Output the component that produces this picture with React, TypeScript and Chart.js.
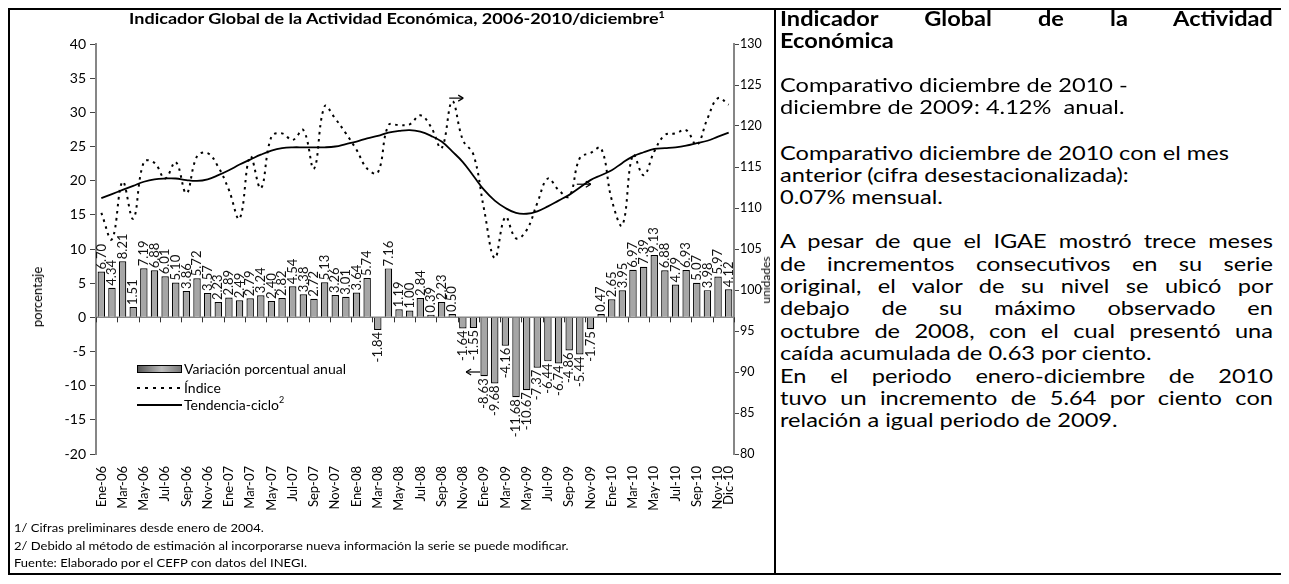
import React, { useEffect, useRef } from "react";
import { Chart, registerables } from "chart.js";
Chart.register(...registerables);

const categories = [
  "Ene-06","Feb-06","Mar-06","Abr-06","May-06","Jun-06","Jul-06","Ago-06","Sep-06","Oct-06","Nov-06","Dic-06",
  "Ene-07","Feb-07","Mar-07","Abr-07","May-07","Jun-07","Jul-07","Ago-07","Sep-07","Oct-07","Nov-07","Dic-07",
  "Ene-08","Feb-08","Mar-08","Abr-08","May-08","Jun-08","Jul-08","Ago-08","Sep-08","Oct-08","Nov-08","Dic-08",
  "Ene-09","Feb-09","Mar-09","Abr-09","May-09","Jun-09","Jul-09","Ago-09","Sep-09","Oct-09","Nov-09","Dic-09",
  "Ene-10","Feb-10","Mar-10","Abr-10","May-10","Jun-10","Jul-10","Ago-10","Sep-10","Oct-10","Nov-10","Dic-10",
];

const shownLabels = [
  "Ene-06","Mar-06","May-06","Jul-06","Sep-06","Nov-06",
  "Ene-07","Mar-07","May-07","Jul-07","Sep-07","Nov-07",
  "Ene-08","Mar-08","May-08","Jul-08","Sep-08","Nov-08",
  "Ene-09","Mar-09","May-09","Jul-09","Sep-09","Nov-09",
  "Ene-10","Mar-10","May-10","Jul-10","Sep-10","Nov-10","Dic-10",
];

const variacion = [
  6.70, 4.34, 8.21, 1.51, 7.19, 6.88, 6.01, 5.10, 3.86, 5.72, 3.57, 2.23,
  2.89, 2.49, 2.79, 3.24, 2.40, 2.82, 4.54, 3.38, 2.72, 5.13, 3.26, 3.01,
  3.64, 5.74, -1.84, 7.16, 1.19, 1.00, 2.84, 0.39, 2.23, 0.50, -1.64, -1.55,
  -8.63, -9.68, -4.16, -11.68, -10.67, -7.37, -6.44, -6.74, -4.86, -5.44, -1.75, 0.47,
  2.65, 3.95, 6.97, 7.39, 9.13, 6.88, 4.79, 6.93, 5.07, 3.98, 5.97, 4.12,
];

const indice = [
  109.4, 106.2, 113.2, 108.7, 115.6, 115.5, 113.6, 115.6, 111.8, 116.3, 116.7, 115.0,
  112.2, 108.7, 116.3, 112.4, 118.7, 119.1, 118.3, 119.5, 114.8, 122.4, 120.9, 119.1,
  117.1, 114.8, 114.3, 120.1, 120.1, 120.2, 121.3, 119.9, 117.3, 123.0, 118.3, 116.5,
  109.8, 103.9, 108.9, 106.3, 107.3, 110.6, 113.6, 112.2, 111.4, 116.1, 116.7, 117.3,
  111.0, 107.9, 116.5, 114.0, 116.9, 118.9, 119.1, 119.5, 117.7, 120.9, 123.4, 122.6,
];

const tendencia = [
  111.2, 111.7, 112.2, 112.7, 113.2, 113.5, 113.6, 113.6, 113.4, 113.3, 113.5, 114.0,
  114.6, 115.3, 115.9, 116.5, 117.0, 117.3, 117.4, 117.4, 117.4, 117.4, 117.5, 117.8,
  118.1, 118.5, 118.8, 119.2, 119.4, 119.5, 119.3, 118.8, 118.1, 116.9, 115.6, 113.9,
  112.2, 110.9, 110.0, 109.4, 109.3, 109.6, 110.2, 110.9, 111.6, 112.5, 113.4, 114.0,
  114.6, 115.5, 116.3, 116.8, 117.2, 117.3, 117.4, 117.6, 117.9, 118.2, 118.7, 119.2,
];

// arrows: category index, value, axis, direction
const arrowMarks = [
  { at: 33, value: 123.4, axis: "y1", dir: 1 },
  { at: 45, value: 112.9, axis: "y1", dir: 1 },
  { at: 36, value: -8.0, axis: "y", dir: -1 },
];

const panelLines = [
  { t: "Indicador Global de la Actividad", b: true, j: true, y: 18 },
  { t: "Económica", b: true, j: false, y: 40 },
  { t: "Comparativo diciembre de 2010 -", b: false, j: false, y: 84 },
  { t: "diciembre de 2009: 4.12%\u00a0 anual.", b: false, j: false, y: 106 },
  { t: "Comparativo diciembre de 2010 con el mes", b: false, j: false, y: 152 },
  { t: "anterior (cifra desestacionalizada):", b: false, j: false, y: 174 },
  { t: "0.07% mensual.", b: false, j: false, y: 196 },
  { t: "A pesar de que el IGAE mostró trece meses", b: false, j: true, y: 240 },
  { t: "de incrementos consecutivos en su serie", b: false, j: true, y: 263 },
  { t: "original, el valor de su nivel se ubicó por", b: false, j: true, y: 285 },
  { t: "debajo de su máximo observado en", b: false, j: true, y: 307 },
  { t: "octubre de 2008, con el cual presentó una", b: false, j: true, y: 330 },
  { t: "caída acumulada de 0.63 por ciento.", b: false, j: false, y: 352 },
  { t: "En el periodo enero-diciembre de 2010", b: false, j: true, y: 375 },
  { t: "tuvo un incremento de 5.64 por ciento con", b: false, j: true, y: 397 },
  { t: "relación a igual periodo de 2009.", b: false, j: false, y: 419 },
];

const footnotes = [
  "1/ Cifras preliminares desde enero de 2004.",
  "2/ Debido al método de estimación al incorporarse nueva información la serie se puede modificar.",
  "Fuente: Elaborado por el CEFP con datos del INEGI.",
];

const FONT = "Lato, 'Open Sans', sans-serif";
const LEFT_W = 764; // inner width of chart cell
const PANEL_GAP = 4;
const PANEL_W = 1271 - (LEFT_W + 2) - PANEL_GAP - 8;
const PANEL_SX = 1.18;

const zeroAxisPlugin = {
  id: "zeroAxis",
  beforeDatasetsDraw(chart: any) {
    const { ctx, chartArea, scales } = chart;
    const y0 = scales.y.getPixelForValue(0);
    const step = (chartArea.right - chartArea.left) / categories.length;
    ctx.save();
    ctx.strokeStyle = "#868686";
    ctx.lineWidth = 1.5;
    ctx.beginPath();
    ctx.moveTo(chartArea.left, y0);
    ctx.lineTo(chartArea.right, y0);
    ctx.stroke();
    ctx.strokeStyle = "#333";
    ctx.lineWidth = 1;
    for (let i = 0; i <= categories.length; i += 2) {
      const px = Math.round(scales.x.getPixelForValue(i) - step / 2) + 0.5;
      ctx.beginPath();
      ctx.moveTo(px, y0);
      ctx.lineTo(px, y0 + 5);
      ctx.stroke();
    }
    ctx.restore();
  },
};

const barLabelPlugin = {
  id: "barLabels",
  afterDatasetsDraw(chart: any) {
    const { ctx } = chart;
    const idx = chart.data.datasets.findIndex((d: any) => d.type === "bar");
    const meta = chart.getDatasetMeta(idx);
    ctx.save();
    ctx.font = `13px ${FONT}`;
    ctx.fillStyle = "#111";
    ctx.textBaseline = "middle";
    meta.data.forEach((el: any, i: number) => {
      const v = variacion[i];
      ctx.save();
      if (v >= 0) {
        ctx.translate(el.x, el.y - 2);
        ctx.rotate(-Math.PI / 2);
        ctx.textAlign = "left";
      } else {
        ctx.translate(el.x, el.y + 2);
        ctx.rotate(-Math.PI / 2);
        ctx.textAlign = "right";
      }
      ctx.fillText(v.toFixed(2), 0, 0);
      ctx.restore();
    });
    ctx.restore();
  },
};

const arrowPlugin = {
  id: "arrows",
  afterDatasetsDraw(chart: any) {
    const { ctx, scales } = chart;
    ctx.save();
    ctx.strokeStyle = "#000";
    ctx.lineWidth = 1.2;
    arrowMarks.forEach((a) => {
      const cx = scales.x.getPixelForValue(a.at);
      const y = scales[a.axis].getPixelForValue(a.value);
      const x0 = a.dir > 0 ? cx - 3 : cx - 4;
      const x1 = a.dir > 0 ? cx + 11 : cx - 18;
      ctx.beginPath();
      ctx.moveTo(x0, y);
      ctx.lineTo(x1, y);
      ctx.stroke();
      ctx.beginPath();
      ctx.moveTo(x1, y);
      ctx.lineTo(x1 - a.dir * 5, y - 3);
      ctx.moveTo(x1, y);
      ctx.lineTo(x1 - a.dir * 5, y + 3);
      ctx.stroke();
    });
    ctx.restore();
  },
};

export default function App() {
  const ref = useRef<HTMLCanvasElement>(null);
  useEffect(() => {
    const chart = new Chart(ref.current as HTMLCanvasElement, {
      type: "bar",
      data: {
        labels: categories,
        datasets: [
          {
            type: "line",
            label: "Índice",
            data: indice,
            yAxisID: "y1",
            borderColor: "#000",
            borderWidth: 2,
            borderDash: [2.5, 4.5],
            pointRadius: 0,
            tension: 0.4,
            fill: false,
            order: 1,
          } as any,
          {
            type: "line",
            label: "Tendencia-ciclo",
            data: tendencia,
            yAxisID: "y1",
            borderColor: "#000",
            borderWidth: 1.8,
            pointRadius: 0,
            tension: 0.4,
            fill: false,
            order: 2,
          } as any,
          {
            type: "bar",
            label: "Variación porcentual anual",
            data: variacion,
            yAxisID: "y",
            backgroundColor: "#a6a6a6",
            borderColor: "#000",
            borderWidth: 1.2,
            barPercentage: 0.7,
            categoryPercentage: 1,
            order: 3,
          } as any,
        ],
      },
      options: {
        animation: false,
        responsive: false,
        layout: { padding: { top: 34, left: 0, right: 0, bottom: 0 } },
        plugins: {
          legend: { display: false },
          title: { display: false },
          tooltip: { enabled: false },
        },
        scales: {
          x: {
            grid: { display: false },
            border: { display: false },
            ticks: {
              autoSkip: false,
              maxRotation: 90,
              minRotation: 90,
              padding: 4,
              color: "#000",
              font: { family: FONT, size: 13 },
              callback: (_v: any, i: number) =>
                shownLabels.includes(categories[i]) ? categories[i] : "",
            },
            afterFit: (s: any) => {
              s.height = 71;
            },
          },
          y: {
            position: "left",
            min: -20,
            max: 40,
            ticks: {
              stepSize: 5,
              color: "#000",
              padding: 4,
              font: { family: FONT, size: 14 },
            },
            grid: {
              drawOnChartArea: false,
              drawTicks: true,
              tickLength: 6,
              color: "#444",
            },
            border: { display: true, color: "#868686", width: 2 },
            afterFit: (s: any) => {
              s.width = 86;
            },
          },
          y1: {
            position: "right",
            min: 80,
            max: 130,
            ticks: {
              stepSize: 5,
              color: "#000",
              padding: 1,
              font: { family: FONT, size: 12.5 },
            },
            grid: {
              drawOnChartArea: false,
              drawTicks: true,
              tickLength: 5,
              color: "#444",
            },
            border: { display: true, color: "#868686", width: 2 },
            afterFit: (s: any) => {
              s.width = LEFT_W - 724;
            },
          },
        },
      } as any,
      plugins: [zeroAxisPlugin, barLabelPlugin, arrowPlugin],
    });
    return () => chart.destroy();
  }, []);

  const legendText: React.CSSProperties = {
    position: "absolute",
    left: 174,
    fontSize: 14,
    lineHeight: "16px",
    whiteSpace: "nowrap",
    color: "#000",
  };

  return (
    <div
      style={{
        position: "relative",
        width: 1275,
        height: 567,
        border: "2px solid #000",
        boxSizing: "border-box",
        fontFamily: FONT,
        color: "#000",
      }}
    >
      <div
        style={{
          position: "absolute",
          left: 0,
          top: 0,
          width: LEFT_W + 2,
          height: 563,
          borderRight: "2px solid #000",
          boxSizing: "border-box",
          overflow: "hidden",
        }}
      >
        <canvas
          ref={ref}
          width={LEFT_W}
          height={515}
          style={{ position: "absolute", left: 0, top: 0, width: LEFT_W, height: 515 }}
        />
        <div
          style={{
            position: "absolute",
            left: 387,
            top: 0,
            transform: "translateX(-50%) scaleX(1.2)",
            fontWeight: 700,
            fontSize: 15,
            lineHeight: "16px",
            whiteSpace: "nowrap",
          }}
        >
          Indicador Global de la Actividad Económica, 2006-2010/diciembre
          <sup style={{ fontSize: 9, verticalAlign: "6px", lineHeight: 0 }}>1</sup>
        </div>
        <div
          style={{
            position: "absolute",
            left: 27,
            top: 287,
            transform: "translate(-50%, -50%) rotate(-90deg)",
            fontSize: 13,
            whiteSpace: "nowrap",
          }}
        >
          porcentaje
        </div>
        <div
          style={{
            position: "absolute",
            left: 756,
            top: 270,
            transform: "translate(-50%, -50%) rotate(-90deg)",
            fontSize: 12,
            lineHeight: "12px",
            whiteSpace: "nowrap",
          }}
        >
          unidades
        </div>
        {/* legend */}
        <div
          style={{
            position: "absolute",
            left: 127,
            top: 355,
            width: 45,
            height: 8,
            border: "1px solid #000",
            boxSizing: "border-box",
            background: "linear-gradient(to right, #555 0%, #bdbdbd 55%, #777 100%)",
          }}
        />
        <div style={{ ...legendText, top: 351 }}>Variación porcentual anual</div>
        <div
          style={{
            position: "absolute",
            left: 127,
            top: 377,
            width: 45,
            height: 2,
            background:
              "repeating-linear-gradient(to right, #000 0px, #000 3px, transparent 3px, transparent 8px)",
          }}
        />
        <div style={{ ...legendText, top: 370 }}>Índice</div>
        <div
          style={{
            position: "absolute",
            left: 127,
            top: 394,
            width: 45,
            height: 1.5,
            background: "#000",
          }}
        />
        <div style={{ ...legendText, top: 387 }}>
          Tendencia-ciclo
          <sup style={{ fontSize: 9, verticalAlign: "7px", lineHeight: 0 }}>2</sup>
        </div>
        {/* footnotes */}
        {footnotes.map((f, i) => (
          <div
            key={i}
            style={{
              position: "absolute",
              left: 4,
              top: 511 + i * 17.5,
              fontSize: 11.5,
              lineHeight: "14px",
              whiteSpace: "nowrap",
              transform: "scaleX(1.13)",
              transformOrigin: "left top",
            }}
          >
            {f}
          </div>
        ))}
      </div>
      <div
        style={{
          position: "absolute",
          left: LEFT_W + 2 + PANEL_GAP,
          top: 0,
          width: PANEL_W,
        }}
      >
        {panelLines.map((l, i) => (
          <div
            key={i}
            style={{
              position: "absolute",
              left: 0,
              width: PANEL_W / PANEL_SX,
              top: l.y - 10 - 11,
              height: 22,
              lineHeight: "22px",
              fontSize: 20,
              fontWeight: l.b ? 700 : 400,
              whiteSpace: "nowrap",
              textAlign: l.j ? "justify" : "left",
              textAlignLast: l.j ? "justify" : "left",
              transform: `scaleX(${PANEL_SX})`,
              transformOrigin: "left top",
            } as React.CSSProperties}
          >
            {l.t}
          </div>
        ))}
      </div>
    </div>
  );
}
